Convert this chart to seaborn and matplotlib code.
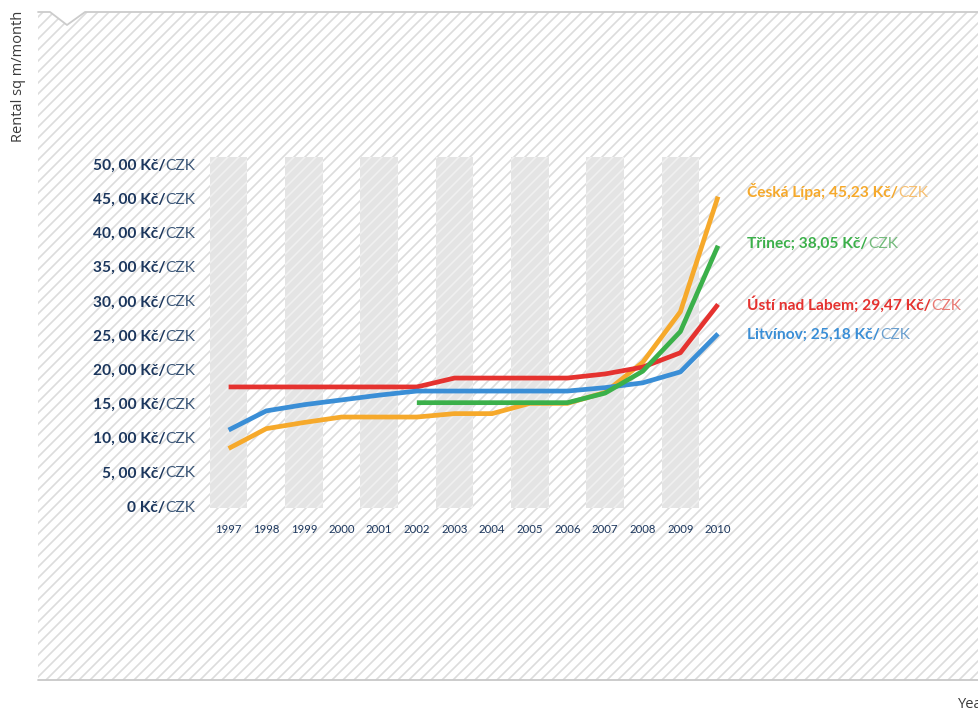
import numpy as np
import pandas as pd
import matplotlib
matplotlib.use("Agg")
import matplotlib.pyplot as plt
from matplotlib.patches import Polygon, Rectangle
from matplotlib.lines import Line2D
from matplotlib.collections import LineCollection
import seaborn as sns

# Average rent per square metre and month (Kč), 1997-2010
years = list(range(1997, 2011))
cities = ["Česká Lípa", "Ústí nad Labem", "Litvínov", "Třinec"]
ceska_lipa = [8.4, 11.3, 12.2, 13.0, 13.0, 13.0, 13.5, 13.5, 15.0, 15.0, 16.6, 21.0, 28.4, 45.23]
usti_nad_labem = [17.4, 17.4, 17.4, 17.4, 17.4, 17.4, 18.7, 18.7, 18.7, 18.7, 19.3, 20.3, 22.4, 29.47]
litvinov = [11.1, 13.9, 14.8, 15.5, 16.2, 16.8, 16.8, 16.8, 16.8, 16.8, 17.3, 18.0, 19.6, 25.18]
trinec = [np.nan, np.nan, np.nan, np.nan, np.nan, 15.1, 15.1, 15.1, 15.1, 15.1, 16.5, 19.7, 25.5, 38.05]
y_ticks = [0, 5, 10, 15, 20, 25, 30, 35, 40, 45, 50]

series = [ceska_lipa, usti_nad_labem, litvinov, trinec]
df = pd.DataFrame({
    "year": years * len(cities),
    "city": [c for c in cities for _ in years],
    "rent": [v for s in series for v in s],
})

line_colors = {"Česká Lípa": "#f6a92b", "Ústí nad Labem": "#e5322f",
               "Litvínov": "#3a8ed6", "Třinec": "#3bb04a"}
soft_colors = {"Česká Lípa": "#f8c071", "Ústí nad Labem": "#e97a74",
               "Litvínov": "#6a9fcf", "Třinec": "#74bb7c"}

sns.set_style("white")
plt.rcParams["font.family"] = ["Lato", "DejaVu Sans"]

W, H = 979, 713
fig = plt.figure(figsize=(W / 100, H / 100), dpi=100)
fig.patch.set_facecolor("white")


def fp(x, y):
    return (x / W, 1 - y / H)


def stripes(step=11.0):
    """Diagonal stripe segments covering the whole figure, in figure fractions."""
    segs = []
    c = 0.0
    while c < W + H + step:
        segs.append([fp(c, 0), fp(c - H, H)])
        c += step
    return segs


# striped panel with a small notch on its top edge
outline = [(38, 12), (50, 12), (67, 25), (85, 12), (W + 5, 12), (W + 5, 680), (38, 680)]
panel = Polygon([fp(*p) for p in outline], closed=True, transform=fig.transFigure,
                facecolor="white", edgecolor="none", zorder=-3)
fig.add_artist(panel)
panel_lines = LineCollection(stripes(), colors="#dcdcdc", linewidths=1.2,
                             transform=fig.transFigure, zorder=-2)
panel_lines.set_clip_path(panel)
fig.add_artist(panel_lines)

top_edge = [(38, 12), (50, 12), (67, 25), (85, 12), (W + 5, 12)]
fig.add_artist(Line2D([fp(*p)[0] for p in top_edge], [fp(*p)[1] for p in top_edge],
                      transform=fig.transFigure, color="#cccccc", lw=1.3, zorder=-1))
fig.add_artist(Line2D([fp(38, 680)[0], fp(W + 5, 680)[0]], [fp(38, 680)[1]] * 2,
                      transform=fig.transFigure, color="#c8c8c8", lw=1.3, zorder=-1))

fig.text(*fp(19, 76), "Rental sq m/month", rotation=90, ha="center", va="center",
         fontsize=10.5, color="#3a3a3a", family=["Open Sans", "DejaVu Sans"])
fig.text(*fp(958, 705), "Year", ha="left", va="center",
         fontsize=10.5, color="#3a3a3a", family=["Open Sans", "DejaVu Sans"])

ax = fig.add_axes([0.2143, 0.2808, 0.5422, 0.5084])
ax.patch.set_alpha(0)
ax.set_xlim(1996.5, 2010.6)
ax.set_ylim(-1, 52)

# alternate-year shading, with lighter stripes inside
for yr in years[::2]:
    band = Rectangle((yr - 0.5, -0.3), 1, 51.3, facecolor="#e4e4e4",
                     edgecolor="none", lw=0, zorder=0.5)
    ax.add_patch(band)
    band_lines = LineCollection(stripes(), colors="#f0f0f0", linewidths=1.2,
                                transform=fig.transFigure, zorder=0.6)
    ax.add_collection(band_lines, autolim=False)
    band_lines.set_clip_path(band)

sns.lineplot(data=df, x="year", y="rent", hue="city", hue_order=cities,
             palette=line_colors, linewidth=3.4, legend=False, ax=ax,
             solid_capstyle="butt", solid_joinstyle="round", zorder=3, clip_on=False)

ax.set_xlim(1996.5, 2010.6)
ax.set_ylim(-1, 52)
for s in ax.spines.values():
    s.set_visible(False)
ax.grid(False)
ax.set_xlabel("")
ax.set_ylabel("")
ax.set_xticks(years)
ax.set_xticklabels([str(y) for y in years])
ax.tick_params(axis="x", length=0, pad=8, labelsize=8.2, labelcolor="#1b365d")
ax.set_yticks([])

# y tick labels: bold amount followed by a lighter currency code
navy = "#1b365d"
ytr = ax.get_yaxis_transform()
FS = 11.2
for v in y_ticks:
    czk = ax.annotate("CZK", xy=(-0.027, v), xycoords=ytr, xytext=(0, -4.0),
                      textcoords="offset points", ha="right", va="baseline",
                      fontsize=FS, color="#3b5677")
    amount = f"{v}, 00 Kč/" if v else "0 Kč/"
    ax.annotate(amount, xy=(0, v), xycoords=(czk, ytr), xytext=(0, -4.0),
                textcoords="offset points", ha="right", va="baseline",
                fontsize=FS, fontweight="bold", color=navy)

# end-of-line value labels
label_lift = {"Česká Lípa": 0, "Třinec": -1.5, "Ústí nad Labem": -4, "Litvínov": -4}
for city, s in zip(cities, series):
    end = s[-1]
    txt = f"{city}; {end:.2f}".replace(".", ",") + " Kč/"
    head = ax.annotate(txt, xy=(years[-1], end), xytext=(21, label_lift[city]),
                       textcoords="offset points", ha="left", va="baseline",
                       fontsize=FS, fontweight="bold", color=line_colors[city])
    ax.annotate("CZK", xy=(1, end), xycoords=(head, "data"),
                xytext=(0, label_lift[city]), textcoords="offset points",
                ha="left", va="baseline", fontsize=FS, color=soft_colors[city])

fig.savefig("out.png", dpi=100)
